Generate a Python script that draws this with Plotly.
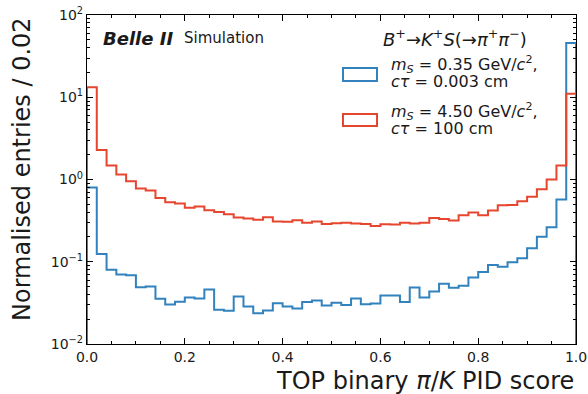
import numpy as np
import plotly.graph_objects as go

# Binning of the TOP binary pi/K PID score (50 bins of width 0.02)
bin_edges = np.linspace(0.0, 1.0, 51)

# Normalised entries per bin, m_S = 0.35 GeV/c^2, c*tau = 0.003 cm
light_short = [
    0.80, 0.124, 0.080, 0.070, 0.0687, 0.049, 0.050, 0.0354, 0.0302, 0.0326,
    0.0367, 0.0357, 0.0459, 0.026, 0.0253, 0.0378, 0.0286, 0.0237, 0.0255, 0.0314,
    0.0286, 0.0270, 0.0323, 0.0338, 0.0294, 0.0317, 0.0297, 0.0357, 0.0305, 0.0311,
    0.0389, 0.0389, 0.0323, 0.0486, 0.0367, 0.0435, 0.0539, 0.0482, 0.0510, 0.0643,
    0.0753, 0.091, 0.0867, 0.0989, 0.110, 0.146, 0.201, 0.263, 0.570, 45.6,
]

# Normalised entries per bin, m_S = 4.50 GeV/c^2, c*tau = 100 cm
heavy_long = [
    13.2, 2.28, 1.48, 1.15, 0.95, 0.776, 0.733, 0.597, 0.53, 0.51,
    0.452, 0.469, 0.423, 0.404, 0.378, 0.344, 0.335, 0.323, 0.348, 0.308,
    0.306, 0.320, 0.299, 0.308, 0.288, 0.294, 0.297, 0.291, 0.288, 0.273,
    0.286, 0.284, 0.297, 0.291, 0.299, 0.341, 0.332, 0.317, 0.368, 0.396,
    0.368, 0.419, 0.486, 0.49, 0.545, 0.615, 0.762, 0.997, 1.48, 11.0,
]

x_ticks = [0.0, 0.2, 0.4, 0.6, 0.8, 1.0]
x_tick_labels = ["0.0", "0.2", "0.4", "0.6", "0.8", "1.0"]
y_ticks = [0.01, 0.1, 1, 10, 100]
y_tick_labels = ["10<sup>−2</sup>", "10<sup>−1</sup>", "10<sup>0</sup>",
                 "10<sup>1</sup>", "10<sup>2</sup>"]
# log minor ticks: 2..9 within each decade
y_minor_ticks = [m * 10.0 ** d for d in range(-2, 2) for m in range(2, 10)]

BLUE = "#3182bd"
RED = "#e6462e"
TEXT = "#1a1a1a"
FONT = "DejaVu Sans"
FLOOR = 1e-4  # baseline below the visible range, closes the step outline


def step_outline(edges, values):
    xs = [edges[0]] + list(edges[:-1]) + [edges[-1], edges[-1]]
    ys = [FLOOR] + list(values) + [values[-1], FLOOR]
    return xs, ys


fig = go.Figure()
for vals, col in [(light_short, BLUE), (heavy_long, RED)]:
    xs, ys = step_outline(bin_edges, vals)
    fig.add_trace(go.Scatter(
        x=xs, y=ys, mode="lines", line=dict(color=col, width=2, shape="hv"),
        showlegend=False, hoverinfo="skip",
    ))

axis_common = dict(
    showgrid=False, zeroline=False, showline=True, linecolor="black",
    linewidth=1.3, mirror="allticks", ticks="inside", ticklen=6,
    tickwidth=1, tickcolor="black", automargin=False,
    tickfont=dict(family=FONT, size=14, color=TEXT),
)

fig.update_xaxes(
    range=[0, 1], tickvals=x_ticks, ticktext=x_tick_labels,
    minor=dict(dtick=0.05, ticks="inside", ticklen=3, tickcolor="black", showgrid=False),
    **axis_common,
)
fig.update_yaxes(
    type="log", range=[-2, 2], tickvals=y_ticks, ticktext=y_tick_labels,
    minor=dict(tickvals=y_minor_ticks, ticks="inside", ticklen=3,
               tickcolor="black", showgrid=False),
    **axis_common,
)

L, R, T, B = 87, 12, 15, 50
W, H = 588, 394
pw, ph = W - L - R, H - T - B


def px(xp):
    return (xp - L) / pw


def py(yp):
    return (H - B - yp) / ph


annotations = [
    # axis titles
    dict(text="TOP binary <i>π</i>/<i>K</i> PID score", x=1.0, y=py(381),
         xanchor="right", yanchor="middle", font=dict(size=24)),
    dict(text="Normalised entries / 0.02", x=px(22), y=1.0, textangle=-90,
         xanchor="center", yanchor="top", font=dict(size=24)),
    # experiment label
    dict(text="<b><i>Belle II</i></b>", x=px(101), y=py(38),
         xanchor="left", yanchor="middle", font=dict(size=18)),
    dict(text="Simulation", x=px(182), y=py(38),
         xanchor="left", yanchor="middle", font=dict(size=15)),
    # decay
    dict(text="<i>B</i><sup>+</sup>→<i>K</i><sup>+</sup><i>S</i>(→<i>π</i><sup>+</sup><i>π</i><sup>−</sup>)",
         x=px(529), y=py(38), xanchor="right", yanchor="middle", font=dict(size=18)),
    # legend entries
    dict(text="<i>m<sub>S</sub></i> = 0.35 GeV/<i>c</i><sup>2</sup>,", x=px(389), y=py(65),
         xanchor="left", yanchor="middle", font=dict(size=16)),
    dict(text="<i>cτ</i> = 0.003 cm", x=px(389), y=py(82),
         xanchor="left", yanchor="middle", font=dict(size=16)),
    dict(text="<i>m<sub>S</sub></i> = 4.50 GeV/<i>c</i><sup>2</sup>,", x=px(389), y=py(111),
         xanchor="left", yanchor="middle", font=dict(size=16)),
    dict(text="<i>cτ</i> = 100 cm", x=px(389), y=py(128),
         xanchor="left", yanchor="middle", font=dict(size=16)),
]
for a in annotations:
    a.setdefault("showarrow", False)
    a["xref"] = "paper"
    a["yref"] = "paper"
    a["font"] = dict(family=FONT, color=TEXT, **a["font"])

shapes = [
    dict(type="rect", xref="paper", yref="paper", x0=px(343), x1=px(377),
         y0=py(81), y1=py(68), line=dict(color=BLUE, width=2)),
    dict(type="rect", xref="paper", yref="paper", x0=px(343), x1=px(377),
         y0=py(126), y1=py(114), line=dict(color=RED, width=2)),
]

fig.update_layout(
    width=W, height=H, margin=dict(l=L, r=R, t=T, b=B),
    plot_bgcolor="white", paper_bgcolor="white",
    font=dict(family=FONT, color=TEXT),
    annotations=annotations, shapes=shapes,
)

fig.write_html("out.html")
